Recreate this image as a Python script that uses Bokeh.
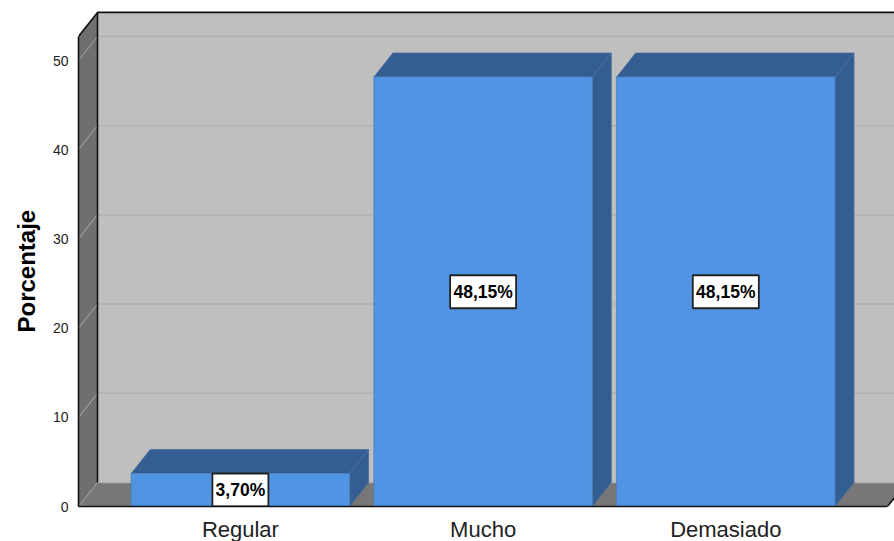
from bokeh.plotting import figure
from bokeh.models import Title
from bokeh.embed import file_html
from bokeh.resources import INLINE
from bokeh.core.properties import value

categories = ["Regular", "Mucho", "Demasiado"]
percent = [3.70, 48.15, 48.15]
labels = ["3,70%", "48,15%", "48,15%"]
y_ticks = [0, 10, 20, 30, 40, 50]
y_title = "Porcentaje"

W, H = 894, 541
LEFT, BOTTOM = 78, 35
PX_Y = 8.92        # px per percent
PX_X = 242.7       # px per category
X0 = (239.9 - LEFT) / PX_X   # offset of first category from frame left
DX = 19 / PX_X     # depth offset, x
DY = 24 / PX_Y     # depth offset, y
BW = 218.4 / PX_X  # bar width
x_l = -X0
x_r = (887 - LEFT) / PX_X - X0   # front right of floor
y_top = 52.7       # front top of wall

p = figure(width=W, height=H, output_backend="svg", toolbar_location=None,
           frame_width=W - LEFT, frame_height=H - BOTTOM,
           x_range=(-X0, (W - LEFT) / PX_X - X0),
           y_range=(0, (H - BOTTOM) / PX_Y),
           min_border_left=LEFT, min_border_bottom=BOTTOM, min_border_top=0, min_border_right=0,
           background_fill_color="white", outline_line_color=None)
p.styles = {"position": "absolute", "left": "0px", "top": "0px"}
p.grid.visible = False

# walls
p.patch([x_l + DX, x_r + 2 * DX, x_r + 2 * DX, x_l + DX], [DY, DY, y_top + DY, y_top + DY],
        fill_color="#bfbfbf", line_color=None)
p.patch([x_l, x_l + DX, x_l + DX, x_l], [0, DY, y_top + DY, y_top],
        fill_color="#6f6f6f", line_color=None)
p.patch([x_l, x_r, x_r + DX, x_l + DX], [0, 0, DY, DY],
        fill_color="#777777", line_color=None)

# gridlines
p.segment([x_l + DX] * 6, [v + DY for v in y_ticks], [x_r + 2 * DX] * 6, [v + DY for v in y_ticks],
          line_color="#b1b1b1", line_width=1.5)
p.segment([x_l] * 6, y_ticks, [x_l + DX] * 6, [v + DY for v in y_ticks],
          line_color="#9a9a9a", line_width=1.2)

# frame lines
p.line([x_l, x_l + DX, x_r + 2 * DX], [y_top, y_top + DY, y_top + DY], line_color="#111111", line_width=1.6)
p.line([x_l + DX, x_l + DX], [DY, y_top + DY], line_color="#111111", line_width=1.6)
p.line([x_r, x_r + DX], [0, DY], line_color="#111111", line_width=1.6)

# bars
xs = list(range(len(categories)))
for x, v in zip(xs, percent):
    l, r = x - BW / 2, x + BW / 2
    p.patch([l, l + DX, r + DX, r], [v, v + DY, v + DY, v], fill_color="#345d91", line_color="#4a6f9f", line_width=0.8)
    p.patch([r, r + DX, r + DX, r], [0, DY, v + DY, v], fill_color="#345d91", line_color="#4a6f9f", line_width=0.8)
    p.patch([l, r, r, l], [0, 0, v, v], fill_color="#5294e4", line_color="#4a7fc0", line_width=0.8)

# value labels
mids = [v / 2 for v in percent]
p.rect(xs, mids, width=[56, 66, 66], height=33, width_units="screen", height_units="screen",
       fill_color="white", line_color="#222222", line_width=1.8)
p.text(xs, mids, text=labels, text_align="center", text_baseline="middle",
       text_font=value("Liberation Sans"), text_font_style="bold", text_font_size="17.5px", text_color="black")

# axes
xa = p.xaxis[0]
xa.ticker = xs
xa.major_label_overrides = dict(zip(xs, categories))
xa.major_label_text_font = "Liberation Sans"
xa.major_label_text_font_size = "22px"
xa.major_label_text_color = "#222222"
xa.major_label_standoff = 4
xa.bounds = (x_l, x_r)
xa.axis_line_color = "#111111"
xa.axis_line_width = 1.6
xa.major_tick_line_color = None
xa.minor_tick_line_color = None

ya = p.yaxis[0]
ya.ticker = y_ticks
ya.bounds = (0, y_top)
ya.major_label_text_font = "Liberation Sans"
ya.major_label_text_font_size = "14px"
ya.major_label_text_color = "#222222"
ya.major_label_standoff = 4
ya.axis_line_color = "#111111"
ya.axis_line_width = 1.6
ya.major_tick_line_color = None
ya.minor_tick_line_color = None

p.add_layout(Title(text=y_title, align="left", offset=174, standoff=19, text_font="Liberation Sans",
                   text_font_style="bold", text_font_size="24px", text_color="black"), "left")

open("out.html", "w").write(file_html(p, INLINE))
